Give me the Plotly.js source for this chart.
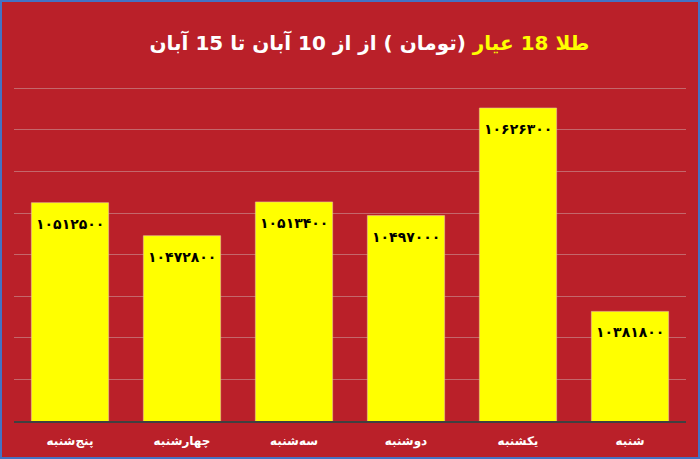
<!DOCTYPE html>
<html>
<head>
<meta charset="utf-8">
<script src="https://cdn.plot.ly/plotly-3.0.1.min.js"></script>
<style>
html,body{margin:0;padding:0;background:#BA2029;}
#chart{width:696px;height:455px;border:2px solid #4472C4;}
</style>
</head>
<body>
<div id="chart"></div>
<script>
const categories = ["پنج\u200cشنبه", "چهارشنبه", "سه\u200cشنبه", "دوشنبه", "یکشنبه", "شنبه"];
const prices = [10512500, 10472800, 10513400, 10497000, 10626300, 10381800];
const titleYellow = "طلا 18 عیار";
const titleWhite = "(تومان ) از از 10 آبان تا 15 آبان";

const faDigits = "۰۱۲۳۴۵۶۷۸۹";
function toPersian(n){ return String(n).replace(/[0-9]/g, d => faDigits[+d]); }

const FONT = "DejaVu Sans, sans-serif";
const bgRed = "#BA2029";

const trace = {
  type: "bar",
  x: categories,
  y: prices,
  marker: {color: "#FFFF00", line: {color: "#E8C0A0", width: 0.6}},
  hoverinfo: "none"
};

const annotations = categories.map((c, i) => ({
  x: c, y: prices[i], xref: "x", yref: "y",
  text: "<b>" + toPersian(prices[i]) + "</b>",
  showarrow: false, yshift: -21,
  font: {family: FONT, size: 14, color: "#000000"}
}));

const layout = {
  width: 696, height: 455,
  paper_bgcolor: bgRed, plot_bgcolor: bgRed,
  margin: {l: 12, r: 12, t: 78, b: 36},
  bargap: 0.31,
  showlegend: false,
  title: {
    text: "<b><span style='color:#FFFF00'>" + titleYellow + "</span> " + titleWhite + "</b>",
    font: {family: FONT, size: 20, color: "#FFFFFF"},
    x: 0.529, xanchor: "center", xref: "paper",
    y: 0.91, yanchor: "middle", yref: "container"
  },
  xaxis: {
    type: "category",
    showgrid: false,
    showline: true, linecolor: "#404040", linewidth: 2,
    ticks: "", ticklen: 0,
    ticklabelstandoff: 8,
    tickfont: {family: FONT, size: 12, color: "#FFFFFF", weight: "bold"},
    fixedrange: true
  },
  yaxis: {
    range: [10250000, 10660000],
    dtick: 50000, tick0: 10250000,
    showgrid: true, gridcolor: "#C4676B", gridwidth: 1,
    showticklabels: false, zeroline: false, showline: false,
    ticks: "", fixedrange: true
  },
  annotations: annotations
};

Plotly.newPlot("chart", [trace], layout, {displayModeBar: false, staticPlot: true});
</script>
</body>
</html>
